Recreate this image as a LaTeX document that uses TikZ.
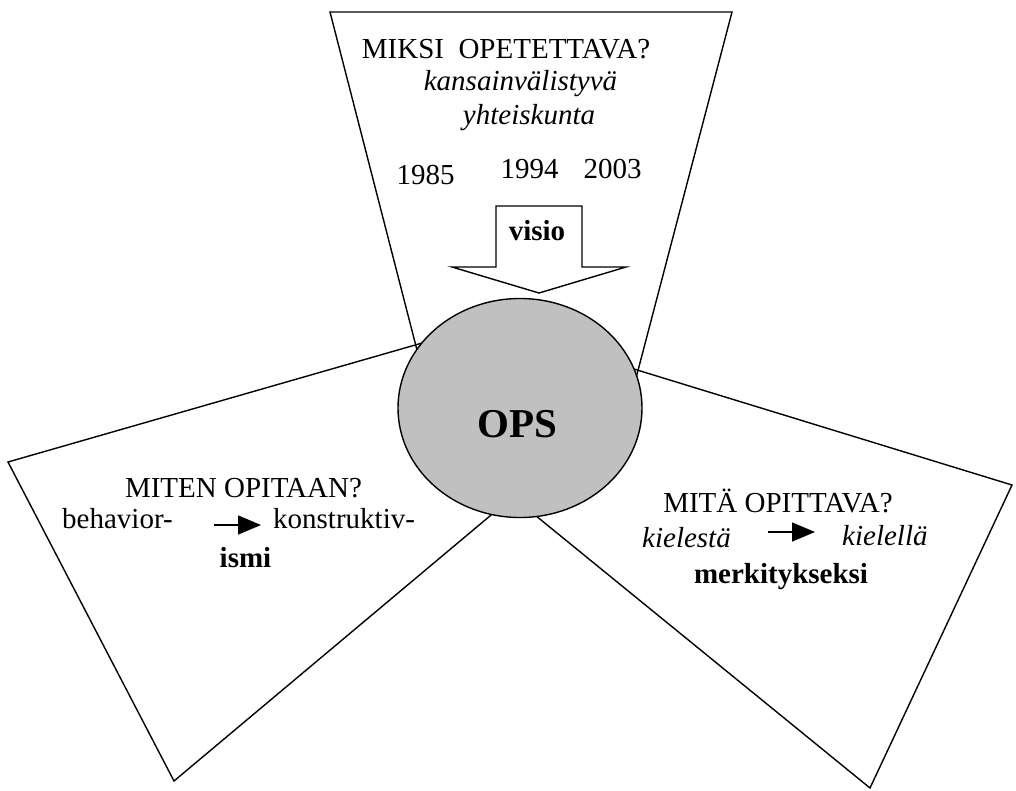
\documentclass[tikz,border=0pt]{standalone}
\usepackage{fontspec}
\setmainfont{Liberation Serif}
\usetikzlibrary{shapes.geometric,arrows.meta}
\definecolor{opsgray}{RGB}{192,192,192}
\tikzset{
  panel/.style={draw=black,line width=1.4pt,line join=miter},
  txt/.style={inner sep=0pt,anchor=base,font=\fontsize{29}{34}\selectfont},
  txtw/.style={txt,anchor=base west},
  smallarrow/.style={line width=1.6pt,-{Triangle[length=23pt,width=19pt]}},
}
\begin{document}
\begin{tikzpicture}[x=1pt,y=-1pt]
\useasboundingbox (0,0) rectangle (1016,790);
% panels
\draw[panel] (330,12) -- (732,12) -- (625,420) -- (435,420) -- cycle;
\draw[panel] (8,462) -- (450,335) -- (515,420) -- (500,507.5) -- (174,781) -- cycle;
\draw[panel] (600,358.6) -- (1012,485) -- (870,788) -- (530,511) -- (525,420) -- cycle;
% centre
\node[ellipse,draw=black,line width=1.4pt,fill=opsgray,minimum width=244pt,minimum height=219pt,inner sep=0pt] (ops) at (520,408) {};
\node[inner sep=0pt,anchor=base,font=\fontsize{41}{48}\bfseries\selectfont] (opstext) at (517,437) {OPS};
% block arrow
\draw[panel,fill=white] (496,206) -- (582,206) -- (582,267) -- (626,267) -- (539,293) -- (452,267) -- (496,267) -- cycle;
\node[txt,font=\fontsize{29}{34}\bfseries\selectfont] (visio) at (537,240) {visio};
% top texts
\node[txt] (miksi) at (506,58) {MIKSI~ OPETETTAVA?};
\node[txt,font=\fontsize{29}{34}\itshape\selectfont] (kans) at (520.5,90) {kansainvälistyvä};
\node[txt,font=\fontsize{29}{34}\itshape\selectfont] (yht) at (529,124) {yhteiskunta};
\node[txt] (y85) at (425.5,184) {1985};
\node[txt] (y94) at (529.5,178) {1994};
\node[txt] (y03) at (612.5,178) {2003};
% left texts
\node[txt] (miten) at (243.5,497) {MITEN OPITAAN?};
\node[txtw] (behav) at (62,528) {behavior-};
\node[txtw] (konst) at (273,528) {konstruktiv-};
\node[txt,font=\fontsize{29}{34}\bfseries\selectfont] (ismi) at (245.5,567) {ismi};
\coordinate (la1) at (214,525);
\coordinate (la2) at (261,525);
\draw[smallarrow] (la1) -- (la2);
% right texts
\node[txt] (mita) at (778,512) {MITÄ OPITTAVA?};
\node[txtw,font=\fontsize{29}{34}\itshape\selectfont] (kiel1) at (642,547) {kielestä};
\node[txtw,font=\fontsize{29}{34}\itshape\selectfont] (kiel2) at (842,545) {kielellä};
\node[txt,font=\fontsize{29}{34}\bfseries\selectfont] (merk) at (781,583) {merkitykseksi};
\coordinate (ra1) at (768,532);
\coordinate (ra2) at (815,532);
\draw[smallarrow] (ra1) -- (ra2);
\end{tikzpicture}
\end{document}
